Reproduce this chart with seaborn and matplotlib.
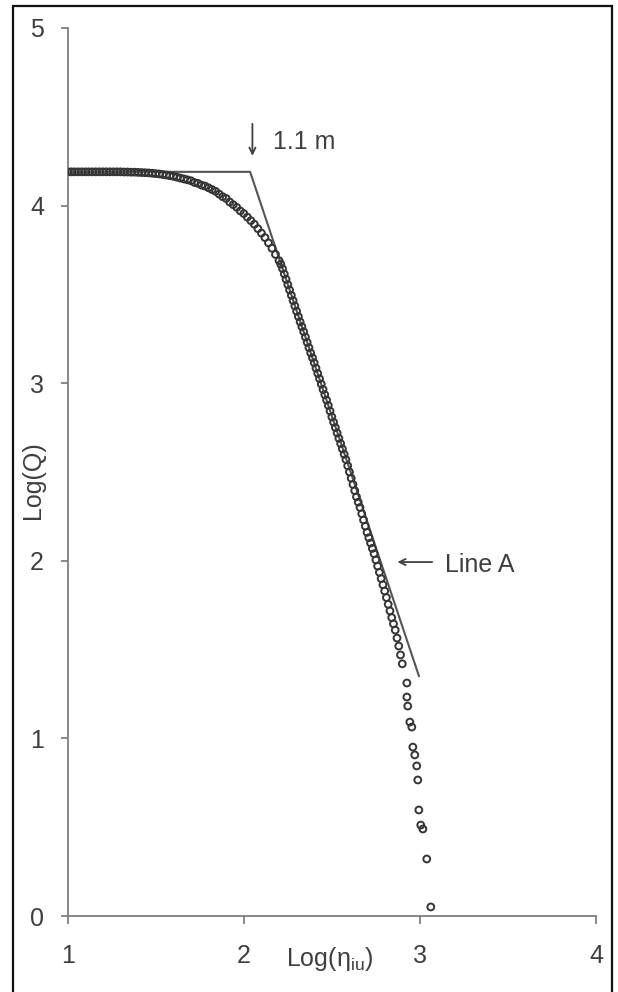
import matplotlib
matplotlib.use("Agg")
import matplotlib.pyplot as plt
import seaborn as sns
import pandas as pd
from matplotlib.patches import Rectangle

# observed points, Log(eta_iu) vs Log(Q)
log_eta = [
    1.00, 1.02, 1.04, 1.06, 1.08, 1.10, 1.12, 1.14, 1.16, 1.18,
    1.20, 1.22, 1.24, 1.26, 1.28, 1.30, 1.32, 1.34, 1.36, 1.38,
    1.40, 1.42, 1.44, 1.46, 1.48, 1.50, 1.52, 1.54, 1.56, 1.58,
    1.60, 1.62, 1.64, 1.66, 1.68, 1.70, 1.72, 1.74, 1.76, 1.78,
    1.80, 1.82, 1.84, 1.86, 1.88, 1.90, 1.92, 1.94, 1.96, 1.98,
    2.00, 2.02, 2.04, 2.06, 2.08, 2.10, 2.12, 2.14, 2.16, 2.18,
    2.20, 2.21, 2.22, 2.23, 2.24, 2.25, 2.26, 2.27, 2.28, 2.29,
    2.30, 2.31, 2.32, 2.33, 2.34, 2.35, 2.36, 2.37, 2.38, 2.39,
    2.40, 2.41, 2.42, 2.43, 2.44, 2.45, 2.46, 2.47, 2.48, 2.49,
    2.50, 2.51, 2.52, 2.53, 2.54, 2.55, 2.56, 2.57, 2.58, 2.59,
    2.60, 2.61, 2.62, 2.63, 2.64, 2.65, 2.66, 2.67, 2.68, 2.69,
    2.70, 2.71, 2.72, 2.73, 2.74, 2.75, 2.76, 2.77, 2.78, 2.79,
    2.80, 2.81, 2.82, 2.83, 2.84, 2.85, 2.86, 2.87, 2.88, 2.89,
    2.90, 2.926, 2.926, 2.931, 2.943, 2.954, 2.960, 2.971, 2.982, 2.988,
    2.994, 3.005, 3.017, 3.039, 3.062,
]
log_q = [
    4.190, 4.190, 4.190, 4.190, 4.190, 4.190, 4.190, 4.190, 4.190, 4.190,
    4.190, 4.190, 4.190, 4.190, 4.190, 4.190, 4.189, 4.189, 4.188, 4.188,
    4.187, 4.186, 4.185, 4.184, 4.182, 4.180, 4.178, 4.175, 4.172, 4.168,
    4.165, 4.160, 4.155, 4.150, 4.145, 4.140, 4.130, 4.125, 4.115, 4.110,
    4.100, 4.090, 4.080, 4.065, 4.050, 4.040, 4.020, 4.005, 3.990, 3.970,
    3.955, 3.935, 3.915, 3.895, 3.870, 3.845, 3.820, 3.790, 3.760, 3.725,
    3.690, 3.670, 3.645, 3.615, 3.585, 3.555, 3.525, 3.495, 3.465, 3.435,
    3.405, 3.375, 3.345, 3.318, 3.290, 3.260, 3.230, 3.200, 3.170, 3.143,
    3.115, 3.085, 3.055, 3.025, 2.995, 2.965, 2.935, 2.905, 2.875, 2.843,
    2.810, 2.780, 2.750, 2.720, 2.690, 2.660, 2.630, 2.600, 2.570, 2.535,
    2.500, 2.465, 2.430, 2.395, 2.360, 2.330, 2.300, 2.265, 2.230, 2.195,
    2.160, 2.130, 2.100, 2.070, 2.040, 2.005, 1.970, 1.935, 1.900, 1.865,
    1.830, 1.793, 1.755, 1.718, 1.680, 1.645, 1.610, 1.565, 1.520, 1.470,
    1.420, 1.312, 1.233, 1.182, 1.092, 1.064, 0.951, 0.907, 0.845, 0.766,
    0.597, 0.512, 0.490, 0.321, 0.051,
]

# Line A: plateau then straight fall
line_x = [1.0, 2.036, 2.995]
line_y = [4.19, 4.19, 1.35]

x_ticks = [1, 2, 3, 4]
y_ticks = [0, 1, 2, 3, 4, 5]

GREY_TEXT = "#3f3f3f"
GREY_AXIS = "#7f7f7f"
FS = 18

sns.set_style("white")
plt.rcParams["font.family"] = ["Liberation Sans", "DejaVu Sans"]
plt.rcParams["mathtext.fontset"] = "custom"
plt.rcParams["mathtext.rm"] = "Liberation Sans"

fig = plt.figure(figsize=(6.18, 9.92), dpi=100)
ax = fig.add_axes([0.1095, 0.0766, 0.8549, 0.8952])

pts = pd.DataFrame({"log_eta": log_eta, "log_q": log_q})
sns.scatterplot(data=pts, x="log_eta", y="log_q", ax=ax, marker="o", s=24,
                facecolor="none", edgecolor="#353535", linewidth=1.4, zorder=3)
sns.lineplot(x=line_x, y=line_y, ax=ax, sort=False, color="#555555",
             linewidth=1.5, zorder=2)

ax.set_xlim(1, 4)
ax.set_ylim(0, 5)
ax.set_xticks(x_ticks)
ax.set_yticks(y_ticks)
ax.set_xlabel("")
ax.set_ylabel("")
sns.despine(ax=ax)
for side in ["left", "bottom"]:
    ax.spines[side].set_color(GREY_AXIS)
    ax.spines[side].set_linewidth(1.3)
ax.tick_params(axis="x", direction="out", length=6, width=1.3, color=GREY_AXIS,
               pad=14, labelsize=FS, labelcolor=GREY_TEXT, bottom=True)
ax.tick_params(axis="y", direction="out", length=5, width=1.3, color=GREY_AXIS,
               pad=12, labelsize=FS, labelcolor=GREY_TEXT, left=True)

ax.text(2.49, -0.165, "Log(η$_{\\mathrm{iu}}$)", ha="center", va="top",
        fontsize=FS, color=GREY_TEXT, clip_on=False)
ax.text(-0.0647, 2.455, "Log(Q)", transform=ax.get_yaxis_transform(),
        rotation=90, ha="center", va="center", fontsize=FS, color=GREY_TEXT)

# "1.1 m" marker and "Line A" callout
arrow = dict(arrowstyle="->,head_length=0.45,head_width=0.22", color=GREY_TEXT,
             linewidth=1.3, shrinkA=0, shrinkB=0)
ax.annotate("", xy=(2.049, 4.28), xytext=(2.049, 4.46), arrowprops=arrow)
ax.text(2.166, 4.319, "1.1 m", ha="left", va="baseline", fontsize=FS,
        color=GREY_TEXT)
ax.annotate("", xy=(2.872, 1.993), xytext=(3.07, 1.993), arrowprops=arrow)
ax.text(3.141, 1.937, "Line A", ha="left", va="baseline", fontsize=FS,
        color=GREY_TEXT)

# frame round the whole picture
fig.patches.append(Rectangle((0.0215, -0.01), 0.968, 1.0043, transform=fig.transFigure,
                             fill=False, edgecolor="#111111", linewidth=1.6))

fig.savefig("out.png", dpi=100)
plt.close(fig)
